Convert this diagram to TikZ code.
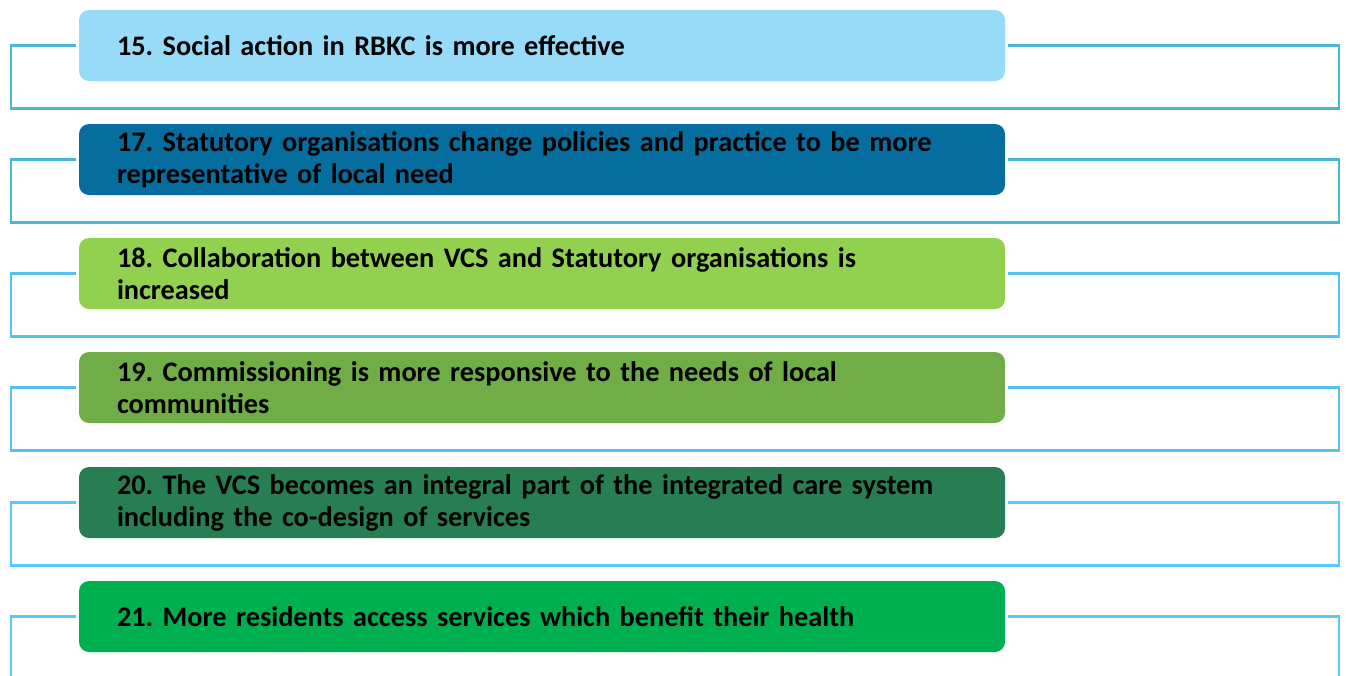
\documentclass[tikz,border=0pt]{standalone}
\usepackage{fontspec}
\setmainfont{Carlito}
\definecolor{fA}{HTML}{97DBF8}
\definecolor{fB}{HTML}{066E9E}
\definecolor{fC}{HTML}{92D050}
\definecolor{fD}{HTML}{70AD47}
\definecolor{fE}{HTML}{287E53}
\definecolor{fF}{HTML}{00B050}
\definecolor{lA}{HTML}{4CB6D3}
\definecolor{lB}{HTML}{55C2EE}
\definecolor{lC}{HTML}{5AC8FA}
\newcommand\myrow[5]{%
  \node[box, fill=#3] (#1) at (542,#2) {#5};
  \coordinate (#1bl) at (11,#2+63);
  \coordinate (#1br) at (1339,#2+63);
  \draw[frame, draw=#4] ([xshift=-3pt]#1.west) -| (#1bl) -- (#1br) |- ([xshift=3pt]#1.east);
}
\begin{document}
\frenchspacing
\begin{tikzpicture}[x=1pt,y=-1pt,
  box/.style={rounded corners=10pt, minimum height=71pt, text width=850pt,
    inner xsep=38pt, inner ysep=0pt, align=left, draw=none,
    font=\fontsize{28.3}{32}\selectfont\bfseries\frenchspacing},
  frame/.style={line width=2.6pt}]
\useasboundingbox (0,0) rectangle (1346,675);
\clip (0,0) rectangle (1346,675);
\myrow{r1}{45.5}{fA}{lA}{15. Social action in RBKC is more effective}
\myrow{r2}{159.5}{fB}{lA}{17. Statutory organisations change policies and practice to be more\\representative of local need}
\myrow{r3}{273.5}{fC}{lB}{18. Collaboration between VCS and Statutory organisations is\\increased}
\myrow{r4}{387.5}{fD}{lB}{19. Commissioning is more responsive to the needs of local\\communities}
\myrow{r5}{502.5}{fE}{lC}{20. The VCS becomes an integral part of the integrated care system\\including the co-design of services}
\myrow{r6}{616.5}{fF}{lC}{21. More residents access services which benefit their health}
\end{tikzpicture}
\end{document}
